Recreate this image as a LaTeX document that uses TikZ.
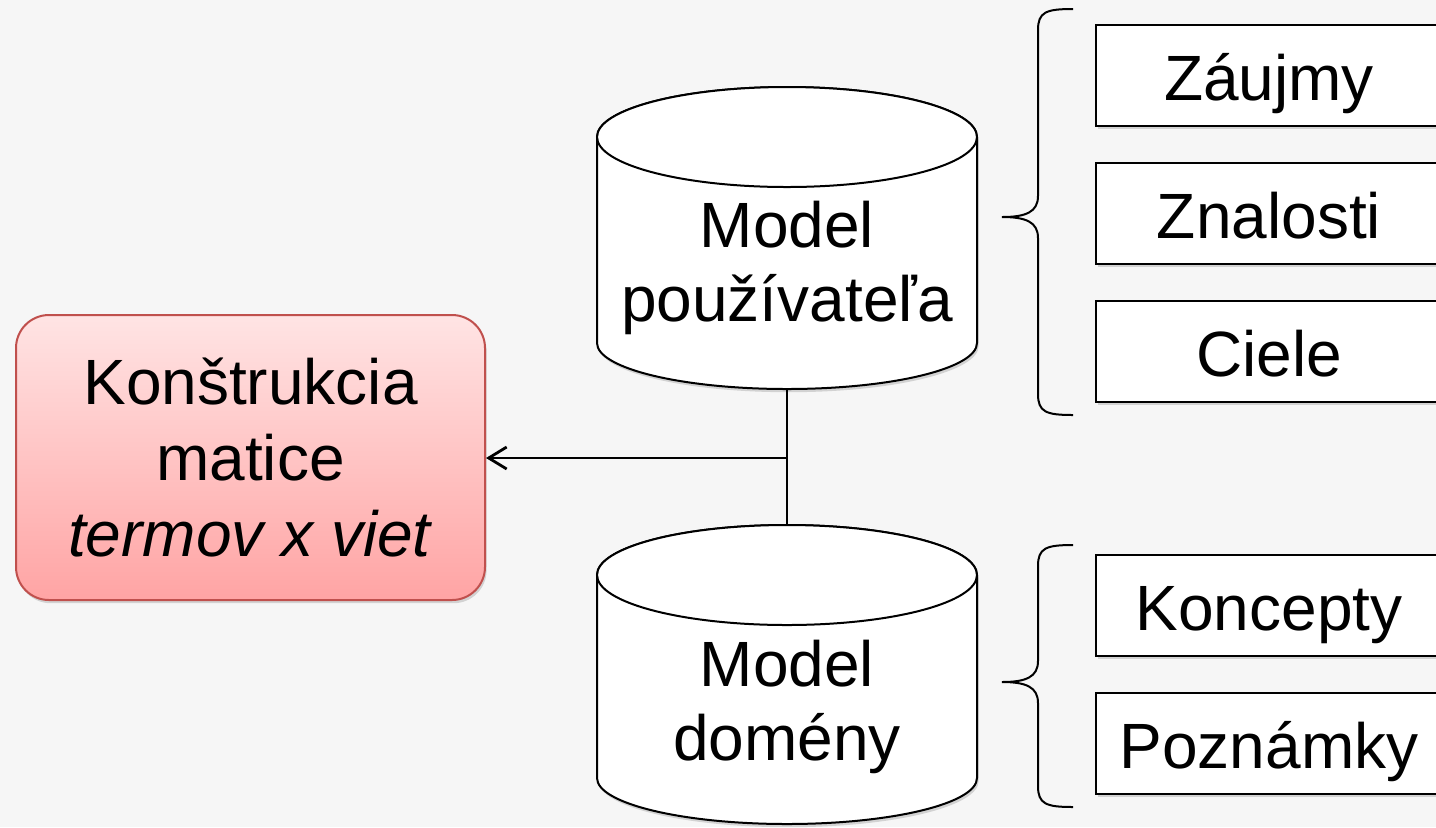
\documentclass[tikz,border=0pt]{standalone}
\usepackage{fontspec}
\setmainfont{Liberation Sans}
\usetikzlibrary{positioning,arrows.meta,shadows}
\definecolor{bgfill}{RGB}{246,246,246}
\definecolor{kontop}{RGB}{255,228,228}
\definecolor{konbot}{RGB}{255,164,164}
\definecolor{konline}{RGB}{192,80,77}

\begin{document}
\begin{tikzpicture}[x=0.5pt,y=0.5pt,node distance=17.5pt,
  txt/.style={font=\fontsize{32}{37}\selectfont,align=center,inner sep=0pt},
  shd/.style={drop shadow={opacity=0.3,shadow xshift=0.8pt,shadow yshift=-1.6pt}},
  item/.style={txt,draw=black,line width=1pt,fill=white,shd,
    minimum width=173pt,minimum height=50.5pt,text height=30pt,text depth=5.5pt},
  konbox/.style={txt,font=\fontsize{32}{38}\selectfont,draw=konline,line width=1pt,
    rounded corners=16.5pt,top color=kontop,bottom color=konbot,shd,
    minimum width=234.5pt,minimum height=142.5pt},
  cyl/.style={draw=black,line width=1pt,fill=white},
  brc/.style={draw=black,line width=1pt},
  conn/.style={line width=1.4pt}]
\useasboundingbox (0,0) rectangle (1436,-827);
\fill[bgfill] (0,0) rectangle (1436,-827);

% matrix construction
\node[konbox] (kon) at (250.5,-457.5) {Konštrukcia\\matice\\\textit{termov x viet}};

% user model cylinder
\filldraw[cyl,shd] (597,-137) -- (597,-343) arc[start angle=180,end angle=360,x radius=190,y radius=46]
  -- (977,-137) arc[start angle=0,end angle=180,x radius=190,y radius=50] -- cycle;
\draw[cyl] (787,-137) ellipse [x radius=190,y radius=50];
\node[txt] (user) at (787,-268) {Model\\používateľa};

% domain model cylinder
\filldraw[cyl,shd] (597,-575) -- (597,-778) arc[start angle=180,end angle=360,x radius=190,y radius=46]
  -- (977,-575) arc[start angle=0,end angle=180,x radius=190,y radius=50] -- cycle;
\draw[cyl] (787,-575) ellipse [x radius=190,y radius=50];
\node[txt] (dom) at (787,-707) {Model\\domény};

% connectors
\coordinate (userbot) at (787,-389);
\coordinate (domtop) at (787,-525);
\coordinate (junc) at (787,-458);
\draw[conn] (userbot) -- (domtop);
\draw[conn,-{Straight Barb[length=9pt,width=11pt]}] (junc) -- (junc -| kon.east);

% user model parts
\node[item] (zau) at (1269,-75.5) {Záujmy};
\node[item,below=of zau] (zna) {Znalosti};
\node[item,below=of zna] (cie) {Ciele};
\draw[brc] (1073,-9) .. controls (1046,-9) and (1038,-12) .. (1038,-30) -- (1038,-196)
  .. controls (1038,-212) and (1026,-217) .. (1002,-217)
  .. controls (1026,-217) and (1038,-222) .. (1038,-238) -- (1038,-394)
  .. controls (1038,-412) and (1046,-415) .. (1073,-415);

% domain model parts
\node[item] (kcp) at (1269,-605.5) {Koncepty};
\node[item,below=of kcp] (poz) {Poznámky};
\draw[brc] (1073,-545) .. controls (1046,-545) and (1038,-548) .. (1038,-566) -- (1038,-661)
  .. controls (1038,-677) and (1026,-682) .. (1002,-682)
  .. controls (1026,-682) and (1038,-687) .. (1038,-703) -- (1038,-786)
  .. controls (1038,-804) and (1046,-807) .. (1073,-807);
\end{tikzpicture}
\end{document}
